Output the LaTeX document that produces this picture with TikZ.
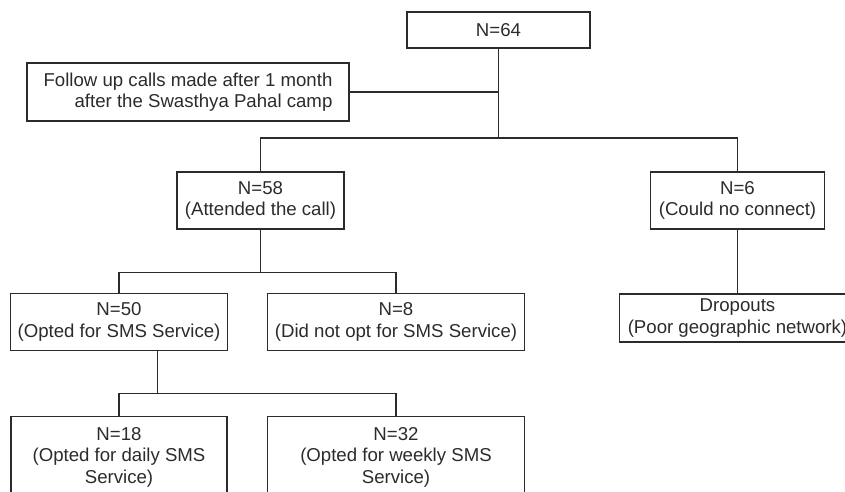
\documentclass[tikz,border=0pt]{standalone}
\usepackage{fontspec}
\setmainfont{Liberation Sans}
\definecolor{ink}{HTML}{2B2B2B}

\begin{document}
\begin{tikzpicture}[x=0.02cm, y=-0.02cm, line width=0.8pt, draw=ink,
    every node/.style = {shape=rectangle, draw=ink, align=center, text=ink,
    inner sep=0pt, font=\fontsize{10.6}{12.2}\selectfont},
    box/.style 2 args={minimum width=#1*0.02cm, minimum height=#2*0.02cm}]
    \useasboundingbox (0,0) rectangle (845,492);
    \clip (0,0) rectangle (845,492);
    \node[box={183}{36}] (n64) at (498.5,30) {N=64};
    \node[box={322}{58}, align=right] (follow) at (188,92)
        {Follow up calls made after 1 month\\after the Swasthya Pahal camp};
    \node[box={167}{57}] (n58) at (260.5,200.5) {N=58\\(Attended the call)};
    \node[box={174}{57}] (n6) at (737.5,200.5) {N=6\\(Could no connect)};
    \node[box={217}{57}] (n50) at (119,322) {N=50\\(Opted for SMS Service)};
    \node[box={257}{57}] (n8) at (396,322) {N=8\\(Did not opt for SMS Service)};
    \node[box={236}{48}] (drop) at (737.5,318) {Dropouts\\(Poor geographic network)};
    \node[box={216}{81}] (n18) at (119,457) {N=18\\(Opted for daily SMS\\Service)};
    \node[box={257}{81}] (n32) at (396,457) {N=32\\(Opted for weekly SMS\\Service)};
    \coordinate (b1) at (498.5,138);
    \coordinate (b2) at (260.5,272.5);
    \coordinate (b3) at (157.5,393.5);
    \draw (n64) -- (b1);
    \draw (follow) -- (follow -| n64);
    \draw (n58.north) |- (b1) -| (n6.north);
    \draw (n58) -- (b2);
    \draw (n50.north) |- (b2) -| (n8.north);
    \draw (n50.south -| b3) -- (b3);
    \draw (n18.north) |- (b3) -| (n32.north);
    \draw (n6) -- (drop);
\end{tikzpicture}
\end{document}
